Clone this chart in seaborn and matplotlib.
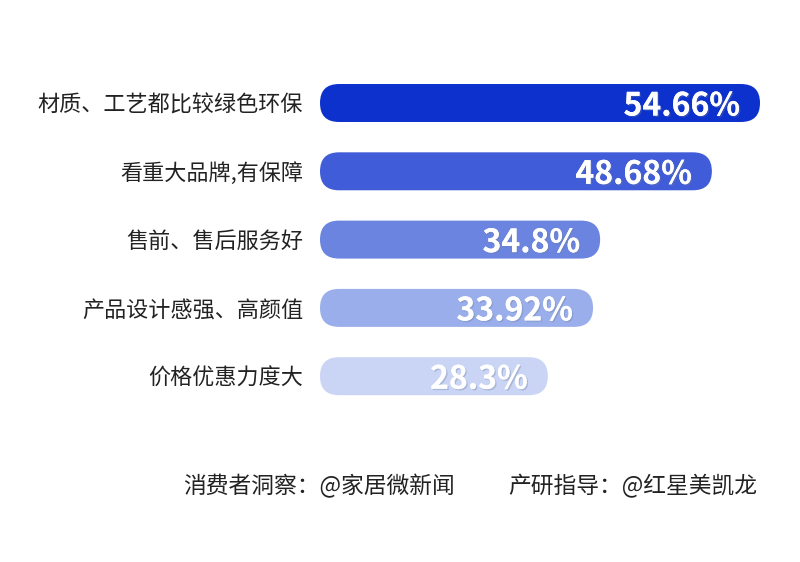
import matplotlib
matplotlib.use("Agg")
import matplotlib.pyplot as plt
import seaborn as sns
import pandas as pd
from matplotlib.patches import FancyBboxPatch
import matplotlib.patheffects as pe

categories = ["材质、工艺都比较绿色环保", "看重大品牌,有保障", "售前、售后服务好", "产品设计感强、高颜值", "价格优惠力度大"]
values = [54.66, 48.68, 34.8, 33.92, 28.3]
value_labels = ["54.66%", "48.68%", "34.8%", "33.92%", "28.3%"]
colors = ["#0d31cc", "#405cd8", "#6a84e0", "#9aaeeb", "#cad4f5"]
footer_left = "消费者洞察：@家居微新闻"
footer_right = "产研指导：@红星美凯龙"

sns.set_theme(style="white")
plt.rcParams["font.family"] = ["Noto Sans CJK SC", "DejaVu Sans"]

W, H = 800, 562
fig = plt.figure(figsize=(W / 100, H / 100), dpi=100)
fig.patch.set_facecolor("white")

px_per_unit = 440 / 54.66
xmax = 60
ax_w = xmax * px_per_unit
row_px = 68.3
ax_h = 5 * row_px
top_px = 103 - row_px / 2
ax = fig.add_axes([320 / W, (H - top_px - ax_h) / H, ax_w / W, ax_h / H])

df = pd.DataFrame({"cat": categories, "val": values})
sns.barplot(data=df, x="val", y="cat", hue="cat", palette=colors, legend=False,
            width=0.556, ax=ax, orient="h")
ax.set_xlim(0, xmax)
ax.set_ylim(4.5, -0.5)

# replace rectangles by rounded bars
bar_h_units = 0.556
radius_px = bar_h_units * row_px / 2
rx = radius_px / px_per_unit
aspect = (radius_px / row_px) / rx
rects = list(ax.patches)
for p, c in zip(rects, colors):
    x0, y0 = p.get_x(), p.get_y()
    w, h = p.get_width(), p.get_height()
    p.set_visible(False)
    fb = FancyBboxPatch((x0, y0), w, h,
                        boxstyle=f"round,pad=0,rounding_size={rx}",
                        mutation_aspect=aspect, facecolor=c, edgecolor="none")
    ax.add_patch(fb)

for i, (v, lab) in enumerate(zip(values, value_labels)):
    ax.text(v - 20 / px_per_unit, i, lab, ha="right", va="center_baseline",
            fontsize=23, fontweight="bold", color="white",
            family=["Noto Sans CJK SC", "DejaVu Sans"],
            path_effects=[pe.withSimplePatchShadow(offset=(1, -1), shadow_rgbFace="#7080a0", alpha=0.35), pe.Normal()])

ax.set_xlabel("")
ax.set_ylabel("")
ax.set_xticks([])
ax.tick_params(axis="y", length=0, pad=12.2, labelsize=15.9, labelcolor="#222222")
for s in ax.spines.values():
    s.set_visible(False)

fig.text(183 / W, 1 - 486 / H, footer_left, ha="left", va="center", fontsize=16.4, color="#222222")
fig.text(757 / W, 1 - 486 / H, footer_right, ha="right", va="center", fontsize=16.4, color="#222222")

fig.savefig("out.png", dpi=100, facecolor="white")
